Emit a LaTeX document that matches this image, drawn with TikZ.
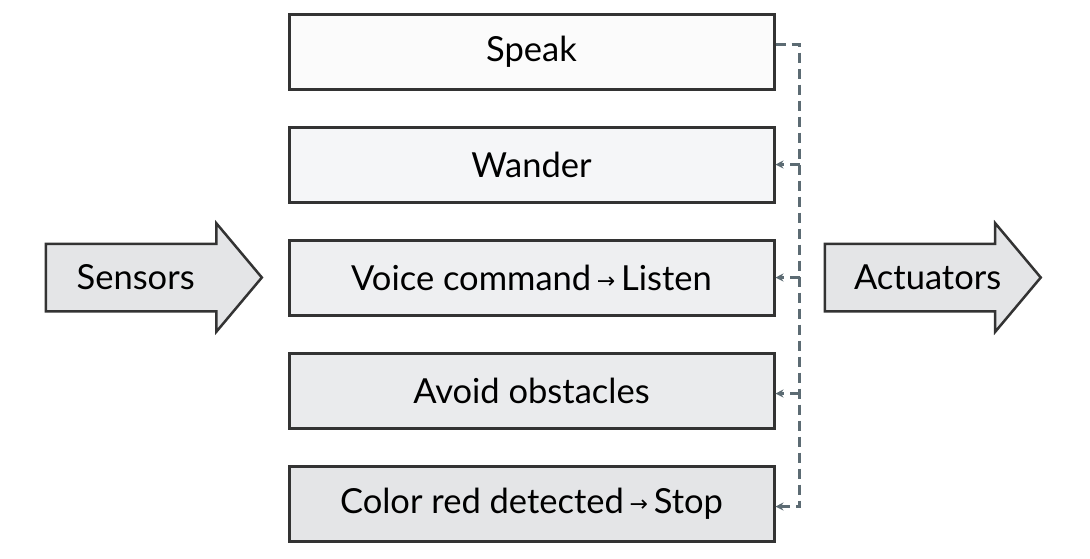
\documentclass[tikz,border=0pt]{standalone}
\usepackage{fontspec}
\setmainfont{Lato}
\newfontfamily\symfont{DejaVu Sans}
\usepackage{xcolor}
\usetikzlibrary{positioning}
\usetikzlibrary{shapes.arrows}
\usetikzlibrary{arrows.meta}

\definecolor{boxline}{HTML}{333333}
\definecolor{fillA}{HTML}{FBFBFB}
\definecolor{fillB}{HTML}{F5F6F8}
\definecolor{fillC}{HTML}{EEEFF1}
\definecolor{fillD}{HTML}{EAEBED}
\definecolor{fillE}{HTML}{E4E5E7}
\definecolor{buscol}{HTML}{5C6B73}
\newcommand{\lbl}{\fontsize{34.5}{40}\selectfont}
\newcommand{\arr}{\,\raisebox{1.5pt}{\symfont\fontsize{22}{22}\selectfont →}\,}

\begin{document}
\begin{tikzpicture}[x=1pt, y=1pt,
	behav/.style={draw=boxline, line width=3pt, rectangle, minimum width=485pt, minimum height=75pt, font=\lbl},
	bigarrow/.style={draw=boxline, line width=2.5pt, single arrow, fill=fillE, font=\lbl,
		text height=24pt, text depth=0pt, inner ysep=20.5pt, inner xsep=0pt,
		minimum height=216pt, single arrow head extend=20.5pt, single arrow tip angle=100},
	bus/.style={draw=buscol, line width=2.4pt, dash pattern=on 10pt off 6pt, -{Stealth[length=8pt, width=8pt]}}]
	\useasboundingbox (0,0) rectangle (1090,-558);
	\node (speak) [behav, fill=fillA] at (531.5,-51.5) {Speak}
	node (wander)  [behav, fill=fillB, below=35pt of speak]  {Wander}
	node (listen)  [behav, fill=fillC, below=35pt of wander] {Voice command\arr Listen}
	node (avoid)   [behav, fill=fillD, below=35pt of listen] {Avoid obstacles}
	node (stop)    [behav, fill=fillE, below=35pt of avoid]  {Color red detected\arr Stop}
	node (sensors)   [bigarrow, left=24pt of listen]  {Sensors\hspace*{8pt}}
	node (actuators) [bigarrow, right=48pt of listen] {\hspace*{18pt}Actuators};
	% dashed bus on the right
	\draw[bus] ([yshift=7pt]speak.east) -| ([xshift=24pt, yshift=-3pt]stop.east) -- ([yshift=-3pt]stop.east);
	\draw[bus, -] ([yshift=7pt]speak.east) -- ++(10pt,0);
	\foreach \B/\d in {wander/0, listen/0, avoid/-3}
	{\draw[bus] ([xshift=24pt, yshift=\d pt]\B.east) -- ([yshift=\d pt]\B.east);}
\end{tikzpicture}
\end{document}
